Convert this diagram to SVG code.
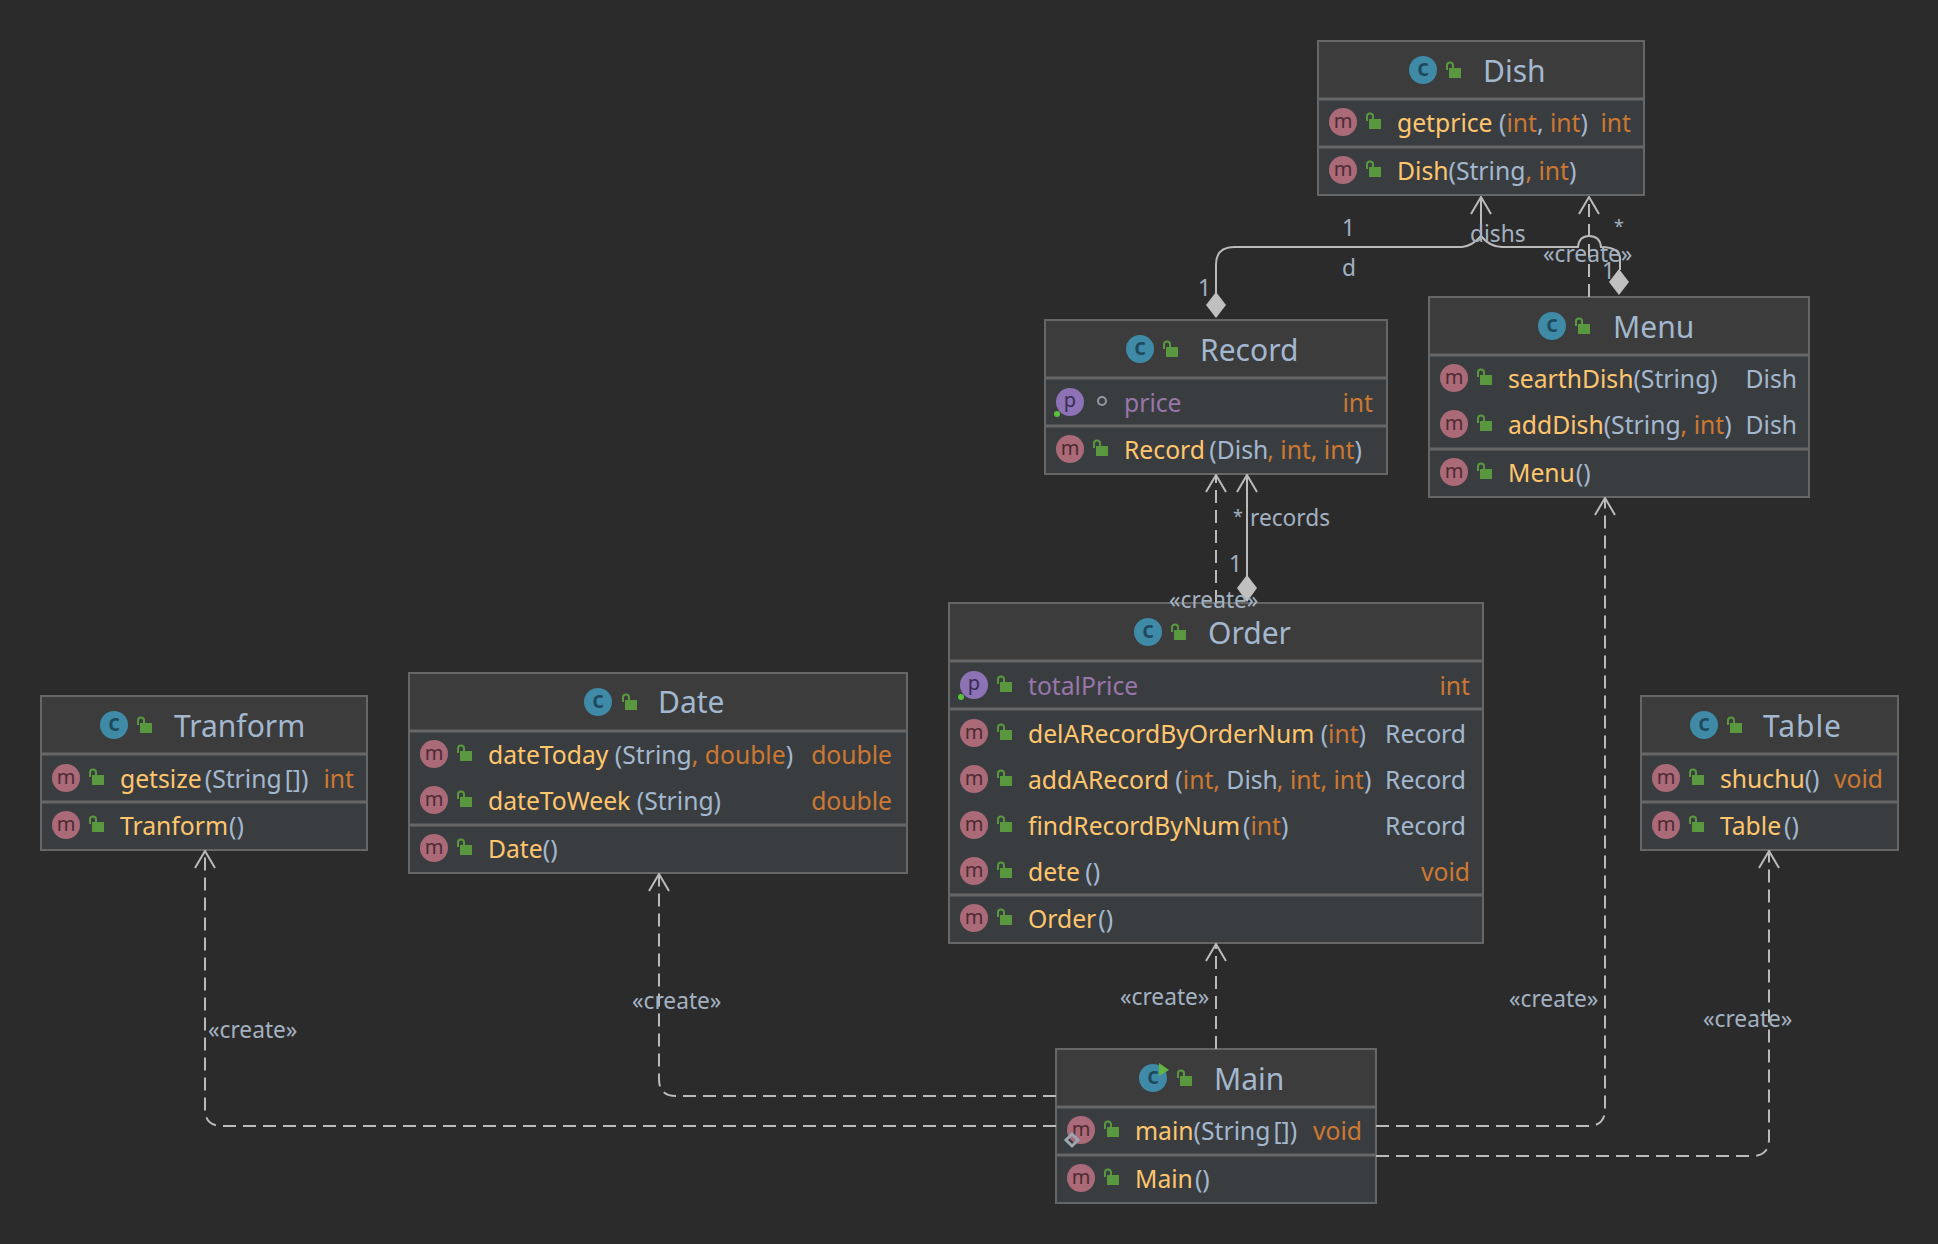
<svg xmlns="http://www.w3.org/2000/svg" width="1938" height="1244" viewBox="0 0 1938 1244">
<style>
text{font-family:"Noto Sans","Open Sans","DejaVu Sans",sans-serif}
.box{fill:#3a3d40;stroke:#666;stroke-width:2}
.hd{fill:#3c3c3c}
.sep{stroke:#666;stroke-width:3}
.title{font-size:30px;fill:#a3b8cf}
.r{font-size:24.7px;fill:#a3b8cf}
.n{fill:#ffc66d}.k{fill:#cc7832}.a{fill:#a3b8cf}.f{fill:#9876aa}
.end{text-anchor:end}
.m{fill:#ab6a78}.mt{font-size:20px;fill:#4d2a34;text-anchor:middle}
.c{fill:#3f8aa6}.ct{font-size:23px;font-weight:600;fill:#1f4a5e;text-anchor:middle}
.p{fill:#8d72b5}.pt{font-size:20px;fill:#3a2c55;text-anchor:middle}
.lab{font-size:22.7px;fill:#a3b1c0}
.ast{font-size:18px;fill:#a3b1c0}
.ln{fill:none;stroke:#bbb;stroke-width:2}
.ds{stroke-dasharray:13 7}
.lk{fill:#59983f}
.dm{fill:#c0c0c0}
</style>
<defs>
<g id="lock"><rect class="lk" x="-4" y="-3" width="12" height="10"/><path d="M-6 -1V-5.500a3 3 0 0 1 6 0V-3" fill="none" stroke="#59983f" stroke-width="2"/></g>
<marker id="ah" viewBox="0 0 24 20" refX="12" refY="1" markerWidth="24" markerHeight="20" markerUnits="userSpaceOnUse" orient="0"><path d="M2 18L12 1L22 18" fill="none" stroke="#bbb" stroke-width="2"/></marker>
</defs>
<rect width="1938" height="1244" fill="#2b2b2b"/>

<g id="node-dish">
<rect class="box" x="1318" y="41" width="326" height="154"/><rect class="hd" x="1319" y="42" width="324" height="57"/>
<path class="sep" d="M1319 99H1643M1319 147H1643"/>
<circle class="c" cx="1423" cy="70" r="14"/><text class="ct" x="1423" y="76">c</text><use href="#lock" x="1453" y="71"/>
<text class="title" x="1483" y="82">Dish</text>
<g transform="translate(1318,122)"><circle class="m" cx="25" r="14"/><text class="mt" x="25" y="6">m</text><use href="#lock" x="55"/><text class="r" x="79" y="9.500"><tspan class="n">getprice</tspan> (<tspan class="k">int</tspan>, <tspan class="k">int</tspan>)</text><text class="r k end" x="313" y="9.500">int</text></g>
<g transform="translate(1318,170)"><circle class="m" cx="25" r="14"/><text class="mt" x="25" y="6">m</text><use href="#lock" x="55"/><text class="r" x="79" y="9.500"><tspan class="n">Dish</tspan>(String<tspan class="k">, int</tspan>)</text></g>
</g>

<g id="node-record">
<rect class="box" x="1045" y="320" width="342" height="154"/><rect class="hd" x="1046" y="321" width="340" height="57"/>
<path class="sep" d="M1046 378H1386M1046 426H1386"/>
<circle class="c" cx="1140" cy="349" r="14"/><text class="ct" x="1140" y="355">c</text><use href="#lock" x="1170" y="350"/>
<text class="title" x="1200" y="361">Record</text>
<g transform="translate(1045,402)"><circle class="p" cx="25" r="14"/><text class="pt" x="25" y="5">p</text><circle cx="12" cy="12" r="3" fill="#59c13a"/><circle cx="57" cy="-1" r="4" fill="none" stroke="#8f9aa3" stroke-width="2"/><text class="r f" x="79" y="9.500">price</text><text class="r k end" x="328" y="9.500">int</text></g>
<g transform="translate(1045,449)"><circle class="m" cx="25" r="14"/><text class="mt" x="25" y="6">m</text><use href="#lock" x="55"/><text class="r" x="79" y="9.500"><tspan class="n">Record</tspan><tspan dx="-2"> (Dish</tspan><tspan class="k" dx="-1">, int, int</tspan>)</text></g>
</g>

<g id="node-menu">
<rect class="box" x="1429" y="297" width="380" height="200"/><rect class="hd" x="1430" y="298" width="378" height="57"/>
<path class="sep" d="M1430 355H1808M1430 449H1808"/>
<circle class="c" cx="1552" cy="326" r="14"/><text class="ct" x="1552" y="332">c</text><use href="#lock" x="1582" y="327"/>
<text class="title" x="1613" y="338">Menu</text>
<g transform="translate(1429,378)"><circle class="m" cx="25" r="14"/><text class="mt" x="25" y="6">m</text><use href="#lock" x="55"/><text class="r" x="79" y="9.500"><tspan class="n">searthDish</tspan>(String)</text><text class="r end" x="368" y="9.500">Dish</text></g>
<g transform="translate(1429,424)"><circle class="m" cx="25" r="14"/><text class="mt" x="25" y="6">m</text><use href="#lock" x="55"/><text class="r" x="79" y="9.500"><tspan class="n">addDish</tspan>(String<tspan class="k">, int</tspan>)</text><text class="r end" x="368" y="9.500">Dish</text></g>
<g transform="translate(1429,472)"><circle class="m" cx="25" r="14"/><text class="mt" x="25" y="6">m</text><use href="#lock" x="55"/><text class="r" x="79" y="9.500"><tspan class="n">Menu</tspan><tspan dx="1">()</tspan></text></g>
</g>

<g id="node-order">
<rect class="box" x="949" y="603" width="534" height="340"/><rect class="hd" x="950" y="604" width="532" height="57"/>
<path class="sep" d="M950 661H1482M950 709H1482M950 895H1482"/>
<circle class="c" cx="1148" cy="632" r="14"/><text class="ct" x="1148" y="638">c</text><use href="#lock" x="1178" y="633"/>
<text class="title" x="1208" y="644">Order</text>
<g transform="translate(949,685)"><circle class="p" cx="25" r="14"/><text class="pt" x="25" y="5">p</text><circle cx="12" cy="12" r="3" fill="#59c13a"/><use href="#lock" x="55"/><text class="r f" x="79" y="9.500">totalPrice</text><text class="r k end" x="521" y="9.500">int</text></g>
<g transform="translate(949,733)"><circle class="m" cx="25" r="14"/><text class="mt" x="25" y="6">m</text><use href="#lock" x="55"/><text class="r" x="79" y="9.500"><tspan class="n">delARecordByOrderNum</tspan> (<tspan class="k">int</tspan>)</text><text class="r end" x="517" y="9.500">Record</text></g>
<g transform="translate(949,779)"><circle class="m" cx="25" r="14"/><text class="mt" x="25" y="6">m</text><use href="#lock" x="55"/><text class="r" x="79" y="9.500"><tspan class="n">addARecord</tspan> (<tspan class="k">int,</tspan> Dish<tspan class="k" dx="-1">, int, int</tspan>)</text><text class="r end" x="517" y="9.500">Record</text></g>
<g transform="translate(949,825)"><circle class="m" cx="25" r="14"/><text class="mt" x="25" y="6">m</text><use href="#lock" x="55"/><text class="r" x="79" y="9.500"><tspan class="n">findRecordByNum</tspan><tspan dx="3">(</tspan><tspan class="k">int</tspan>)</text><text class="r end" x="517" y="9.500">Record</text></g>
<g transform="translate(949,871)"><circle class="m" cx="25" r="14"/><text class="mt" x="25" y="6">m</text><use href="#lock" x="55"/><text class="r" x="79" y="9.500"><tspan class="n">dete</tspan><tspan dx="-1"> ()</tspan></text><text class="r k end" x="521" y="9.500">void</text></g>
<g transform="translate(949,918)"><circle class="m" cx="25" r="14"/><text class="mt" x="25" y="6">m</text><use href="#lock" x="55"/><text class="r" x="79" y="9.500"><tspan class="n">Order</tspan><tspan dx="2">()</tspan></text></g>
</g>

<g id="node-tranform">
<rect class="box" x="41" y="696" width="326" height="154"/><rect class="hd" x="42" y="697" width="324" height="57"/>
<path class="sep" d="M42 754H366M42 802H366"/>
<circle class="c" cx="114" cy="725" r="14"/><text class="ct" x="114" y="731">c</text><use href="#lock" x="144" y="726"/>
<text class="title" x="174" y="737">Tranform</text>
<g transform="translate(41,778)"><circle class="m" cx="25" r="14"/><text class="mt" x="25" y="6">m</text><use href="#lock" x="55"/><text class="r" x="79" y="9.500"><tspan class="n">getsize</tspan><tspan dx="3">(String</tspan><tspan dx="3">[])</tspan></text><text class="r k end" x="313" y="9.500">int</text></g>
<g transform="translate(41,825)"><circle class="m" cx="25" r="14"/><text class="mt" x="25" y="6">m</text><use href="#lock" x="55"/><text class="r" x="79" y="9.500"><tspan class="n">Tranform</tspan><tspan dx="1">()</tspan></text></g>
</g>

<g id="node-date">
<rect class="box" x="409" y="673" width="498" height="200"/><rect class="hd" x="410" y="674" width="496" height="57"/>
<path class="sep" d="M410 731H906M410 825H906"/>
<circle class="c" cx="598" cy="702" r="14"/><text class="ct" x="598" y="708">c</text><use href="#lock" x="629" y="703"/>
<text class="title" x="658" y="713">Date</text>
<g transform="translate(409,754)"><circle class="m" cx="25" r="14"/><text class="mt" x="25" y="6">m</text><use href="#lock" x="55"/><text class="r" x="79" y="9.500"><tspan class="n">dateToday</tspan> (String<tspan class="k">, double</tspan>)</text><text class="r k end" x="483" y="9.500">double</text></g>
<g transform="translate(409,800)"><circle class="m" cx="25" r="14"/><text class="mt" x="25" y="6">m</text><use href="#lock" x="55"/><text class="r" x="79" y="9.500"><tspan class="n">dateToWeek</tspan> (String)</text><text class="r k end" x="483" y="9.500">double</text></g>
<g transform="translate(409,848)"><circle class="m" cx="25" r="14"/><text class="mt" x="25" y="6">m</text><use href="#lock" x="55"/><text class="r" x="79" y="9.500"><tspan class="n">Date</tspan>()</text></g>
</g>

<g id="node-table">
<rect class="box" x="1641" y="696" width="257" height="154"/><rect class="hd" x="1642" y="697" width="255" height="57"/>
<path class="sep" d="M1642 754H1897M1642 802H1897"/>
<circle class="c" cx="1704" cy="725" r="14"/><text class="ct" x="1704" y="731">c</text><use href="#lock" x="1734" y="726"/>
<text class="title" x="1763" y="737" textLength="78">Table</text>
<g transform="translate(1641,778)"><circle class="m" cx="25" r="14"/><text class="mt" x="25" y="6">m</text><use href="#lock" x="55"/><text class="r" x="79" y="9.500"><tspan class="n">shuchu</tspan>()</text><text class="r k end" x="242" y="9.500">void</text></g>
<g transform="translate(1641,825)"><circle class="m" cx="25" r="14"/><text class="mt" x="25" y="6">m</text><use href="#lock" x="55"/><text class="r" x="79" y="9.500"><tspan class="n">Table</tspan><tspan dx="3">()</tspan></text></g>
</g>

<g id="node-main">
<rect class="box" x="1056" y="1049" width="320" height="154"/><rect class="hd" x="1057" y="1050" width="318" height="57"/>
<path class="sep" d="M1057 1107H1375M1057 1155H1375"/>
<circle class="c" cx="1153" cy="1078" r="14"/><text class="ct" x="1153" y="1084">c</text><path d="M1159 1063L1169 1070L1159 1076Z" fill="#62b543"/><use href="#lock" x="1184" y="1079"/>
<text class="title" x="1214" y="1090">Main</text>
<g transform="translate(1056,1130)"><circle class="m" cx="25" r="14"/><text class="mt" x="25" y="6">m</text><path d="M16 4L22 10L16 16L10 10Z" fill="none" stroke="#9aa7b0" stroke-width="3"/><use href="#lock" x="55"/><text class="r" x="79" y="9.500"><tspan class="n">main</tspan>(String<tspan dx="3">[])</tspan></text><text class="r k end" x="306" y="9.500">void</text></g>
<g transform="translate(1056,1178)"><circle class="m" cx="25" r="14"/><text class="mt" x="25" y="6">m</text><use href="#lock" x="55"/><text class="r" x="79" y="9.500"><tspan class="n">Main</tspan><tspan dx="2">()</tspan></text></g>
</g>

<g id="connectors">
<path class="ln" d="M1216 296V265Q1216 247 1234 247H1462Q1472 246 1481 236V197" marker-end="url(#ah)"/>
<path class="ln" d="M1620 270V258Q1619 247 1601 247Q1600 236 1589 236Q1579 236 1578 247H1502Q1490 247 1481 236"/>
<path class="dm" d="M1216 292L1226 305L1216 318L1206 305Z"/>
<path class="dm" d="M1619 269L1629 282L1619 295L1609 282Z"/>
<path class="ln ds" d="M1589 297V197" marker-end="url(#ah)"/>
<path class="ln ds" d="M1216 603V475" marker-end="url(#ah)"/>
<path class="ln" d="M1247 577V475" marker-end="url(#ah)"/>
<path class="dm" d="M1247 575L1257 588L1247 602L1237 588Z"/>
<path class="ln ds" d="M1216 1049V944" marker-end="url(#ah)"/>
<path class="ln ds" d="M1056 1096H676Q659 1096 659 1079V874" marker-end="url(#ah)"/>
<path class="ln ds" d="M1056 1126H222Q205 1126 205 1109V851" marker-end="url(#ah)"/>
<path class="ln ds" d="M1376 1126H1588Q1605 1126 1605 1109V498" marker-end="url(#ah)"/>
<path class="ln ds" d="M1376 1156H1752Q1769 1156 1769 1139V851" marker-end="url(#ah)"/>
</g>

<g id="labels">
<text class="lab" x="1342" y="236">1</text>
<text class="lab" x="1342" y="276">d</text>
<text class="lab" x="1198" y="296">1</text>
<text class="lab" x="1470" y="242">dishs</text>
<text class="ast" x="1614" y="233">*</text>
<text class="lab" x="1543" y="262">«create»</text>
<text class="lab" x="1602" y="279">1</text>
<text class="ast" x="1233" y="523">*</text>
<text class="lab" x="1250" y="526">records</text>
<text class="lab" x="1229" y="572">1</text>
<text class="lab" x="1169" y="608">«create»</text>
<text class="lab" x="1120" y="1005">«create»</text>
<text class="lab" x="632" y="1009">«create»</text>
<text class="lab" x="208" y="1038">«create»</text>
<text class="lab" x="1509" y="1007">«create»</text>
<text class="lab" x="1703" y="1027">«create»</text>
</g>
</svg>
